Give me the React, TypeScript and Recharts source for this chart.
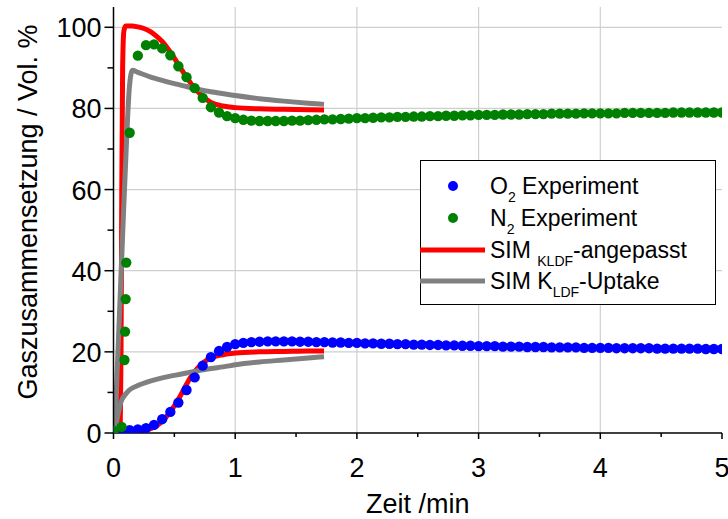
import React from "react";
import {
  ComposedChart,
  Scatter,
  Line,
  XAxis,
  YAxis,
  ZAxis,
  CartesianGrid,
  Legend,
  Label,
} from "recharts";

// ---------- data ----------
const expTime = [
  0, 0.067, 0.133, 0.2, 0.267, 0.333, 0.4, 0.467, 0.533, 0.6,
  0.667, 0.733, 0.8, 0.867, 0.933, 1.0, 1.067, 1.133, 1.2, 1.267,
  1.333, 1.4, 1.467, 1.533, 1.6, 1.667, 1.733, 1.8, 1.867, 1.933,
  2.0, 2.067, 2.133, 2.2, 2.267, 2.333, 2.4, 2.467, 2.533, 2.6,
  2.667, 2.733, 2.8, 2.867, 2.933, 3.0, 3.067, 3.133, 3.2, 3.267,
  3.333, 3.4, 3.467, 3.533, 3.6, 3.667, 3.733, 3.8, 3.867, 3.933,
  4.0, 4.067, 4.133, 4.2, 4.267, 4.333, 4.4, 4.467, 4.533, 4.6,
  4.667, 4.733, 4.8, 4.867, 4.933, 5.0,
];

const o2Experiment = [
  0.5, 0.7, 0.7, 0.9, 1.2, 2.0, 3.4, 5.2, 7.5, 10.6,
  13.7, 16.6, 18.7, 20.2, 21.2, 21.9, 22.2, 22.4, 22.5, 22.6,
  22.6, 22.6, 22.6, 22.5, 22.5, 22.4, 22.4, 22.3, 22.3, 22.2,
  22.2, 22.1, 22.1, 22.0, 22.0, 21.9, 21.9, 21.8, 21.8, 21.7,
  21.7, 21.6, 21.6, 21.5, 21.5, 21.4, 21.4, 21.4, 21.3, 21.3,
  21.3, 21.2, 21.2, 21.2, 21.1, 21.1, 21.1, 21.1, 21.0, 21.0,
  21.0, 21.0, 20.9, 20.9, 20.9, 20.9, 20.9, 20.8, 20.8, 20.8,
  20.8, 20.8, 20.8, 20.7, 20.7, 20.7,
];

const n2Experiment = [
  0.5, 1.5, 74, 93, 95.6, 95.8, 94.8, 93.1, 90.4, 87.7,
  85.0, 82.6, 80.3, 79.0, 78.1, 77.6, 77.2, 77.0, 76.9, 76.9,
  76.9, 76.9, 77.0, 77.0, 77.1, 77.2, 77.3, 77.3, 77.4, 77.5,
  77.6, 77.6, 77.7, 77.8, 77.8, 77.9, 77.9, 78.0, 78.0, 78.1,
  78.1, 78.2, 78.2, 78.3, 78.3, 78.4, 78.4, 78.4, 78.5, 78.5,
  78.5, 78.6, 78.6, 78.6, 78.7, 78.7, 78.7, 78.7, 78.8, 78.8,
  78.8, 78.8, 78.8, 78.9, 78.9, 78.9, 78.9, 78.9, 78.9, 79.0,
  79.0, 79.0, 79.0, 79.0, 79.0, 79.0,
];

// extra early N2 samples during the fast rise
const n2EarlyTime = [0.09, 0.095, 0.1, 0.105];
const n2EarlyValues = [18, 25, 33, 42];

// SIM KLDF-angepasst (red)
const redN2Time = [0.055, 0.062, 0.068, 0.075, 0.085, 0.1, 0.15, 0.2, 0.25, 0.3, 0.35, 0.4, 0.45, 0.5, 0.55, 0.6, 0.65, 0.7, 0.75, 0.8, 0.9, 1.0, 1.2, 1.4, 1.6, 1.73];
const redN2Values = [0, 20, 60, 90, 99, 100.3, 100.3, 100.1, 99.7, 99.0, 97.9, 96.5, 94.6, 92.4, 90.0, 87.7, 85.6, 83.9, 82.5, 81.5, 80.6, 80.2, 79.9, 79.8, 79.7, 79.6];
const redO2Time = [0.05, 0.1, 0.2, 0.25, 0.3, 0.35, 0.4, 0.45, 0.5, 0.55, 0.6, 0.65, 0.7, 0.75, 0.8, 0.9, 1.0, 1.2, 1.4, 1.6, 1.73];
const redO2Values = [0.3, 0.3, 0.4, 0.6, 1.0, 1.7, 2.9, 4.6, 6.7, 9.2, 12.0, 14.5, 16.3, 17.6, 18.5, 19.3, 19.7, 20.0, 20.1, 20.2, 20.2];

// SIM K_LDF-Uptake (gray)
const grayN2Time = [0.01, 0.03, 0.07, 0.11, 0.13, 0.155, 0.2, 0.3, 0.4, 0.5, 0.6, 0.7, 0.8, 1.0, 1.2, 1.4, 1.6, 1.73];
const grayN2Values = [0, 15, 45, 74, 85, 89.4, 88.9, 87.8, 86.9, 86.1, 85.4, 84.7, 84.1, 83.2, 82.4, 81.8, 81.3, 81.0];
const grayO2Time = [0.01, 0.03, 0.06, 0.1, 0.13, 0.2, 0.3, 0.4, 0.5, 0.6, 0.7, 0.8, 0.9, 1.0, 1.2, 1.4, 1.6, 1.73];
const grayO2Values = [0, 3.5, 7.5, 9.6, 10.6, 11.7, 12.8, 13.6, 14.2, 14.8, 15.4, 15.9, 16.3, 16.8, 17.5, 18.0, 18.5, 18.8];

const xTicks = [0, 0.5, 1, 1.5, 2, 2.5, 3, 3.5, 4, 4.5, 5];
const yTicks = [0, 10, 20, 30, 40, 50, 60, 70, 80, 90, 100];
const xMajor = [1, 2, 3, 4];
const yMajor = [20, 40, 60, 80, 100];

const zip = (xs: number[], ys: number[]) => xs.map((x, i) => ({ x, y: ys[i] }));

const o2Data = zip(expTime, o2Experiment);
const n2Data = [...zip(expTime, n2Experiment), ...zip(n2EarlyTime, n2EarlyValues)];
const redN2 = zip(redN2Time, redN2Values);
const redO2 = zip(redO2Time, redO2Values);
const grayN2 = zip(grayN2Time, grayN2Values);
const grayO2 = zip(grayO2Time, grayO2Values);

const FONT = "'Liberation Sans', Arial, sans-serif";

const XTick = (props: any) => {
  const { x, y, payload } = props;
  const v = payload.value;
  const major = Number.isInteger(v);
  return (
    <g>
      <line x1={x} x2={x} y1={y} y2={y + (major ? 6 : 4)} stroke="#000" strokeWidth={1.5} />
      {major && (
        <text x={x} y={y + 44} textAnchor="middle" fontSize={27} fontFamily={FONT} fill="#000">
          {v}
        </text>
      )}
    </g>
  );
};

const YTick = (props: any) => {
  const { x, y, payload } = props;
  const v = payload.value;
  const major = v % 20 === 0;
  return (
    <g>
      <line x1={x} x2={x - (major ? 9 : 6)} y1={y} y2={y} stroke="#000" strokeWidth={1.5} />
      {major && (
        <text x={x - 12} y={y + 10} textAnchor="end" fontSize={27} fontFamily={FONT} fill="#000">
          {v}
        </text>
      )}
    </g>
  );
};

const LegendBox = () => (
  <svg width={296} height={145} style={{ display: "block" }}>
    <rect x={0.5} y={0.5} width={295} height={144} fill="#fff" stroke="#000" strokeWidth={1} />
    <g fontFamily={FONT} fontSize={23} fill="#000">
      <circle cx={33} cy={26} r={5} fill="#0000ff" />
      <text x={70} y={34}>
        O<tspan fontSize={14} dy={8}>2</tspan>
        <tspan dy={-8}> Experiment</tspan>
      </text>
      <circle cx={33} cy={58} r={5} fill="#008000" />
      <text x={70} y={66}>
        N<tspan fontSize={14} dy={8}>2</tspan>
        <tspan dy={-8}> Experiment</tspan>
      </text>
      <line x1={0} x2={65} y1={90} y2={90} stroke="#ff0000" strokeWidth={5} />
      <text x={70} y={98}>
        SIM <tspan fontSize={14} dy={8}>KLDF</tspan>
        <tspan dy={-8}>-angepasst</tspan>
      </text>
      <line x1={0} x2={65} y1={121} y2={121} stroke="#808080" strokeWidth={5} />
      <text x={70} y={129}>
        SIM K<tspan fontSize={14} dy={8}>LDF</tspan>
        <tspan dy={-8}>-Uptake</tspan>
      </text>
    </g>
  </svg>
);

const YLabel = (props: any) => {
  const { viewBox } = props;
  const cx = viewBox.x + viewBox.width - 86;
  const cy = viewBox.y + viewBox.height / 2 - 8;
  return (
    <text
      x={cx}
      y={cy}
      transform={`rotate(-90, ${cx}, ${cy})`}
      textAnchor="middle"
      dominantBaseline="central"
      fontSize={27}
      fontFamily={FONT}
      fill="#000"
    >
      Gaszusammensetzung / Vol. %
    </text>
  );
};

const XLabel = (props: any) => {
  const { viewBox } = props;
  const cx = viewBox.x + viewBox.width / 2;
  const cy = viewBox.y + 80;
  return (
    <text x={cx} y={cy} textAnchor="middle" fontSize={27} fontFamily={FONT} fill="#000">
      Zeit /min
    </text>
  );
};

export default function App() {
  return (
    <div style={{ position: "absolute", left: 0, top: 0, background: "#fff" }}>
      <ComposedChart
        width={728}
        height={519}
        margin={{ top: 7, right: 6, bottom: 0, left: 0 }}
      >
        <CartesianGrid
          stroke="#cfcfcf"
          strokeWidth={1.2}
          horizontalValues={yMajor}
          verticalValues={xMajor}
        />
        <XAxis
          type="number"
          dataKey="x"
          domain={[0, 5]}
          ticks={xTicks}
          allowDataOverflow
          height={86}
          tickSize={0}
          tickMargin={0}
          tickLine={false}
          tick={<XTick />}
          axisLine={{ stroke: "#000", strokeWidth: 1.5 }}
          interval={0}
        >
          <Label content={<XLabel />} />
        </XAxis>
        <XAxis
          xAxisId="top"
          orientation="top"
          type="number"
          domain={[0, 5]}
          height={0}
          tick={false}
          tickLine={false}
          axisLine={{ stroke: "#000", strokeWidth: 1.5 }}
        />
        <YAxis
          type="number"
          dataKey="y"
          domain={[0, 105]}
          ticks={yTicks}
          allowDataOverflow
          width={113.5}
          tickSize={0}
          tickMargin={0}
          tickLine={false}
          tick={<YTick />}
          axisLine={{ stroke: "#000", strokeWidth: 1.5 }}
          interval={0}
        >
          <Label content={<YLabel />} />
        </YAxis>
        <YAxis
          yAxisId="right"
          orientation="right"
          type="number"
          domain={[0, 105]}
          width={0}
          tick={false}
          tickLine={false}
          axisLine={{ stroke: "#000", strokeWidth: 1.5 }}
        />
        <ZAxis range={[84, 84]} />
        <Scatter data={o2Data} fill="#0000ff" shape="circle" isAnimationActive={false} />
        <Scatter data={n2Data} fill="#008000" shape="circle" isAnimationActive={false} />
        <Line data={redN2} dataKey="y" type="monotone" stroke="#ff0000" strokeWidth={5} dot={false} activeDot={false} isAnimationActive={false} />
        <Line data={redO2} dataKey="y" type="monotone" stroke="#ff0000" strokeWidth={5} dot={false} activeDot={false} isAnimationActive={false} />
        <Line data={grayN2} dataKey="y" type="monotone" stroke="#808080" strokeWidth={5} dot={false} activeDot={false} isAnimationActive={false} />
        <Line data={grayO2} dataKey="y" type="monotone" stroke="#808080" strokeWidth={5} dot={false} activeDot={false} isAnimationActive={false} />
        <Legend
          layout="vertical"
          align="center"
          verticalAlign="middle"
          content={<LegendBox />}
          wrapperStyle={{ position: "absolute", left: 420, top: 160, width: 296, height: 145 }}
        />
      </ComposedChart>
    </div>
  );
}
